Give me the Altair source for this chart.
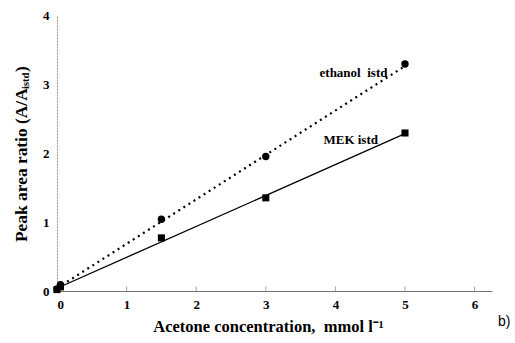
import altair as alt
import pandas as pd

# measured points
eth_x = [0.0, 0.05, 1.5, 3.0, 5.0]
eth_y = [0.03, 0.09, 1.04, 1.95, 3.29]
mek_x = [0.0, 0.05, 1.5, 3.0, 5.0]
mek_y = [0.02, 0.06, 0.77, 1.35, 2.29]
# regression line endpoints
eth_fit_x = [0.0, 5.0]
eth_fit_y = [0.04, 3.26]
mek_fit_x = [0.0, 5.0]
mek_fit_y = [0.04, 2.28]
x_ticks = [0, 1, 2, 3, 4, 5, 6]
y_ticks = [0, 1, 2, 3, 4]
labels = ["ethanol\u00a0\u00a0istd", "MEK istd"]
label_x = [4.26, 4.22]
label_y = [3.16, 2.19]

SERIF = "Liberation Serif"

xs = alt.Scale(domain=[0, 6.25], nice=False)
ys = alt.Scale(domain=[0, 4], nice=False)

xaxis = alt.Axis(values=x_ticks, format="d", grid=False, ticks=False,
                 domainColor="#777777", labelFont=SERIF, labelFontSize=13,
                 labelFontWeight="bold", labelColor="black", labelPadding=7,
                 title="Acetone concentration,\u00a0\u00a0mmol l\u207b\u00b9",
                 titleFont=SERIF, titleFontSize=16.5, titleFontWeight="bold",
                 titleColor="black", titlePadding=7, titleX=211)
yaxis = alt.Axis(values=y_ticks, format="d", grid=False, ticks=False,
                 domainColor="#999999", domainDash=[2, 1], labelFont=SERIF, labelFontSize=13,
                 labelFontWeight="bold", labelColor="black", labelPadding=8,
                 title=None)

eth = pd.DataFrame({"x": eth_x, "y": eth_y})
mek = pd.DataFrame({"x": mek_x, "y": mek_y})
eth_fit = pd.DataFrame({"x": eth_fit_x, "y": eth_fit_y})
mek_fit = pd.DataFrame({"x": mek_fit_x, "y": mek_fit_y})
lab = pd.DataFrame({"t": labels, "x": label_x, "y": label_y})
ticks = pd.DataFrame({"x": x_ticks[1:], "y": [0] * (len(x_ticks) - 1)})

base_enc = dict(x=alt.X("x:Q", scale=xs, axis=xaxis), y=alt.Y("y:Q", scale=ys, axis=yaxis))

eth_line = alt.Chart(eth_fit).mark_line(color="black", strokeWidth=2.2, strokeDash=[2, 4]).encode(**base_enc)
mek_line = alt.Chart(mek_fit).mark_line(color="black", strokeWidth=1.3).encode(
    x=alt.X("x:Q", scale=xs), y=alt.Y("y:Q", scale=ys))
eth_pts = alt.Chart(eth).mark_point(shape="circle", filled=True, color="black", size=55, opacity=1).encode(
    x=alt.X("x:Q", scale=xs), y=alt.Y("y:Q", scale=ys))
mek_pts = alt.Chart(mek).mark_point(shape="square", filled=True, color="black", size=50, opacity=1).encode(
    x=alt.X("x:Q", scale=xs), y=alt.Y("y:Q", scale=ys))
tick_marks = alt.Chart(ticks).mark_tick(orient="vertical", color="#777777", size=5, thickness=1, yOffset=-2).encode(
    x=alt.X("x:Q", scale=xs), y=alt.Y("y:Q", scale=ys))
texts = alt.Chart(lab).mark_text(font=SERIF, fontSize=13, fontWeight="bold", color="black").encode(
    x=alt.X("x:Q", scale=xs), y=alt.Y("y:Q", scale=ys), text="t:N")

ytitle_main = alt.Chart(pd.DataFrame({"t": ["Peak area ratio (A/A"]})).mark_text(
    font=SERIF, fontSize=17.4, fontWeight="bold", color="black", angle=270, align="left", baseline="middle"
).encode(text="t:N", x=alt.value(-35), y=alt.value(227))
ytitle_sub = alt.Chart(pd.DataFrame({"t": ["istd"]})).mark_text(
    font=SERIF, fontSize=10.5, fontWeight="bold", color="black", angle=270, align="left", baseline="middle"
).encode(text="t:N", x=alt.value(-31), y=alt.value(74))
ytitle_end = alt.Chart(pd.DataFrame({"t": [")"]})).mark_text(
    font=SERIF, fontSize=17.4, fontWeight="bold", color="black", angle=270, align="left", baseline="middle"
).encode(text="t:N", x=alt.value(-35), y=alt.value(57))
btag = alt.Chart(pd.DataFrame({"t": ["b)"]})).mark_text(
    font="Liberation Sans", fontSize=14, color="black", align="left", baseline="middle"
).encode(text="t:N", x=alt.value(441), y=alt.value(307))

chart = alt.layer(eth_line, mek_line, tick_marks, eth_pts, mek_pts, texts,
                  ytitle_main, ytitle_sub, ytitle_end, btag).properties(
    width=435, height=276,
    autosize=alt.AutoSizeParams(type="none"),
    padding={"left": 57, "top": 15, "right": 23, "bottom": 52},
    background="white",
).configure_view(stroke=None)

chart.save("out.html", embed_options={"renderer": "svg", "actions": False})
